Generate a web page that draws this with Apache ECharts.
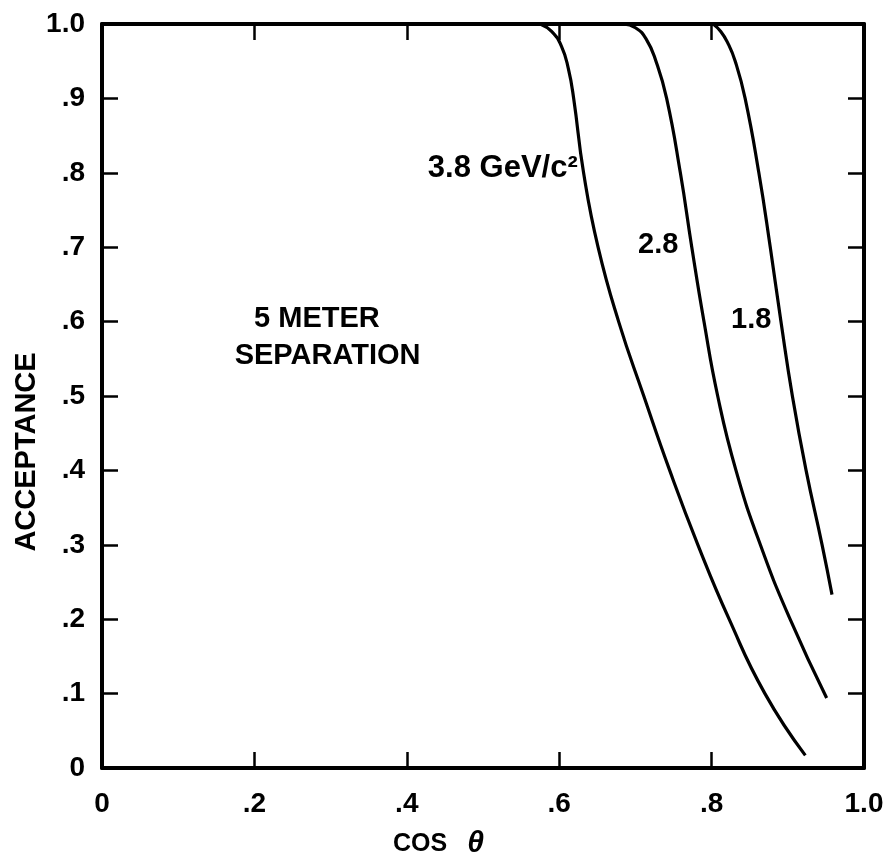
<!DOCTYPE html>
<html>
<head>
<meta charset="utf-8">
<script src="https://cdn.jsdelivr.net/npm/echarts@6/dist/echarts.min.js"></script>
<style>
html,body{margin:0;padding:0;background:#fff;}
#chart{width:887px;height:865px;}
</style>
</head>
<body>
<div id="chart"></div>
<script>
// ---- data ----
const xTicks = [0, 0.2, 0.4, 0.6, 0.8, 1.0];
const xTickLabels = ['0', '.2', '.4', '.6', '.8', '1.0'];
const yTicks = [0, 0.1, 0.2, 0.3, 0.4, 0.5, 0.6, 0.7, 0.8, 0.9, 1.0];
const yTickLabels = ['0', '.1', '.2', '.3', '.4', '.5', '.6', '.7', '.8', '.9', '1.0'];

const seriesNames = ['3.8 GeV/c²', '2.8', '1.8'];
const curve38 = [[0.575,1.0],[0.590,0.99],[0.603,0.97],[0.612,0.94],[0.619,0.9],[0.632,0.8],[0.651,0.7],[0.678,0.6],[0.711,0.5],[0.745,0.4],[0.782,0.3],[0.823,0.2],[0.870,0.1],[0.923,0.017]];
const curve28 = [[0.684,1.0],[0.700,0.995],[0.714,0.98],[0.727,0.95],[0.741,0.9],[0.759,0.8],[0.774,0.7],[0.790,0.6],[0.808,0.5],[0.832,0.4],[0.864,0.3],[0.903,0.2],[0.951,0.094]];
const curve18 = [[0.802,1.0],[0.812,0.99],[0.821,0.975],[0.831,0.95],[0.844,0.9],[0.862,0.8],[0.877,0.7],[0.891,0.6],[0.906,0.5],[0.924,0.4],[0.945,0.3],[0.958,0.233]];

const annotTexts = ['3.8 GeV/c²', '2.8', '1.8', '5 METER', 'SEPARATION'];
const annotPos = [[0.526,0.806],[0.730,0.703],[0.852,0.602],[0.282,0.603],[0.296,0.554]];

const xTitle = 'COS θ';
const yTitle = 'ACCEPTANCE';

// ---- chart ----
const FONT = '"Liberation Sans", Arial, sans-serif';
const chart = echarts.init(document.getElementById('chart'));

function fmt(labels, ticks) {
  return function (v) {
    for (let i = 0; i < ticks.length; i++) if (Math.abs(v - ticks[i]) < 1e-6) return labels[i];
    return '';
  };
}

const axisLine = { show: true, onZero: false, lineStyle: { color: '#000', width: 4 } };
const axisTick = { show: true, inside: true, length: 16, lineStyle: { color: '#000', width: 2.5 } };

const lineStyle = { color: '#000', width: 3.2 };

function curveSeries(name, data) {
  return {
    name: name, type: 'line', data: data, showSymbol: false, symbol: 'none',
    smooth: 0.5, lineStyle: lineStyle, xAxisIndex: 0, yAxisIndex: 0, z: 3, silent: true
  };
}

chart.setOption({
  animation: false,
  backgroundColor: '#fff',
  grid: { left: 102, right: 23, top: 24, bottom: 97, containLabel: false },
  xAxis: [
    {
      type: 'value', min: 0, max: 1, interval: 0.2, position: 'bottom',
      axisLine: axisLine, axisTick: axisTick, splitLine: { show: false },
      axisLabel: { margin: 22, color: '#000', fontFamily: FONT, fontWeight: 'bold', fontSize: 28,
        formatter: fmt(xTickLabels, xTicks), showMinLabel: true, showMaxLabel: true }
    },
    {
      type: 'value', min: 0, max: 1, interval: 0.2, position: 'top',
      axisLine: axisLine, axisTick: axisTick, splitLine: { show: false }, axisLabel: { show: false }
    }
  ],
  yAxis: [
    {
      type: 'value', min: 0, max: 1, interval: 0.1, position: 'left',
      axisLine: axisLine, axisTick: axisTick, splitLine: { show: false },
      axisLabel: { margin: 17, color: '#000', fontFamily: FONT, fontWeight: 'bold', fontSize: 28,
        formatter: fmt(yTickLabels, yTicks), showMinLabel: true, showMaxLabel: true }
    },
    {
      type: 'value', min: 0, max: 1, interval: 0.1, position: 'right',
      axisLine: axisLine, axisTick: axisTick, splitLine: { show: false }, axisLabel: { show: false }
    }
  ],
  series: [
    curveSeries(seriesNames[0], curve38),
    curveSeries(seriesNames[1], curve28),
    curveSeries(seriesNames[2], curve18),
    {
      type: 'scatter', symbolSize: 0, silent: true, z: 4,
      itemStyle: { opacity: 1 },
      data: annotPos.map((p, i) => ({ value: p, name: annotTexts[i],
        label: i === 0 ? { fontSize: 31 } : undefined })),
      label: {
        show: true, position: 'inside', formatter: p => p.name, opacity: 1,
        color: '#000', textBorderWidth: 0, fontFamily: FONT, fontWeight: 'bold', fontSize: 29
      }
    }
  ],
  graphic: [
    {
      type: 'text', left: 393, top: 829, silent: true,
      style: { text: '{a|COS}{b|θ}', rich: {
        a: { fontFamily: FONT, fontWeight: 'bold', fontSize: 25, fill: '#000' },
        b: { fontFamily: FONT, fontWeight: 'bold', fontStyle: 'italic', fontSize: 30, fill: '#000', padding: [0,0,0,20] }
      } }
    },
    {
      type: 'text', x: 27, y: 452, rotation: Math.PI / 2, silent: true,
      style: { text: yTitle, fontFamily: FONT, fontWeight: 'bold', fontSize: 29, fill: '#000',
        align: 'center', verticalAlign: 'middle' }
    }
  ]
});
</script>
</body>
</html>
